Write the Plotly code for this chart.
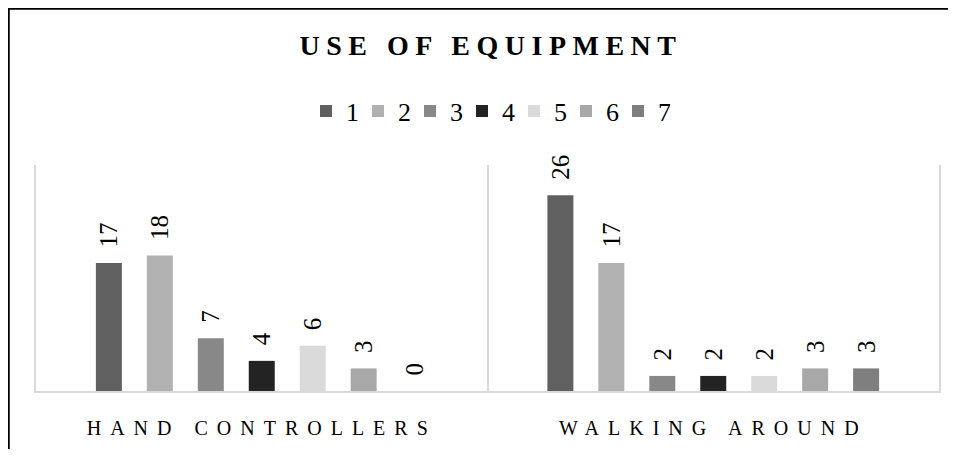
import plotly.graph_objects as go

categories = ["HAND CONTROLLERS", "WALKING AROUND"]
series_names = ["1", "2", "3", "4", "5", "6", "7"]
s1 = [17, 26]
s2 = [18, 17]
s3 = [7, 2]
s4 = [4, 2]
s5 = [6, 2]
s6 = [3, 3]
s7 = [0, 3]
series_values = [s1, s2, s3, s4, s5, s6, s7]
colors = ["#606060", "#b1b1b1", "#888888", "#232323", "#dadada", "#a8a8a8", "#7f7f7f"]

FONT = "Liberation Serif, Times New Roman, serif"
NB = "\u00a0"

fig = go.Figure()
for name, vals, col in zip(series_names, series_values, colors):
    fig.add_trace(go.Bar(
        x=categories, y=vals, name=name,
        marker=dict(color=col, line=dict(width=0)),
        texttemplate=NB * 2 + "%{y}",
        textposition="outside",
        textangle=-90,
        constraintext="none",
        cliponaxis=False,
        textfont=dict(family=FONT, size=25, color="#000000"),
    ))

# page has an 8px body margin: figure pixel = page pixel - 8
OFF = 8
W, H = 956 - 2 * OFF, 457 - 2 * OFF
L, T = 36 - OFF, 165 - OFF
R = W - (939 - OFF)
B = H - (391 - OFF)
pw, ph = W - L - R, H - T - B

def px_x(x):
    return (x - OFF - L) / pw

def px_y(y):
    return (H - B - (y - OFF)) / ph

ls_title = "letter-spacing:6.5px"
ls_cat = "letter-spacing:9px"
fig.update_layout(
    width=W, height=H,
    margin=dict(l=L, r=R, t=T, b=B, autoexpand=False),
    paper_bgcolor="white", plot_bgcolor="white",
    barmode="group", bargap=0.21, bargroupgap=0.49,
    font=dict(family=FONT, color="#000000"),
    title=dict(
        text=f"<span style='{ls_title}'><b>USE OF EQUIPMENT</b></span>",
        font=dict(family=FONT, size=28, color="#000000"),
        x=px_x(491), xref="paper", xanchor="center",
        y=1 - (45 - OFF) / H, yref="container", yanchor="middle",
    ),
    legend=dict(
        orientation="h", x=px_x(488), xanchor="center",
        y=px_y(111), yanchor="middle",
        font=dict(family=FONT, size=26, color="#000000"),
        bgcolor="rgba(0,0,0,0)", itemclick=False,
        entrywidth=7, entrywidthmode="pixels",
    ),
    xaxis=dict(
        tickmode="array", tickvals=categories,
        ticktext=[f"<span style='{ls_cat}'>{c}</span>" for c in categories],
        tickson="boundaries", ticks="",
        showgrid=True, gridcolor="#d9d9d9", gridwidth=2,
        showline=True, linecolor="#d9d9d9", linewidth=2,
        tickfont=dict(family=FONT, size=20, color="#000000"),
        ticklabelstandoff=18,
    ),
    yaxis=dict(
        range=[0, 30], showticklabels=False, showgrid=False, zeroline=False,
        showline=True, linecolor="#d9d9d9", linewidth=2, mirror=True, ticks="",
    ),
    showlegend=True,
    shapes=[dict(
        type="path", xref="paper", yref="paper",
        path=f"M {px_x(8.5)} {px_y(449)} L {px_x(8.5)} {px_y(8.5)} L {px_x(948)} {px_y(8.5)}",
        line=dict(color="#000000", width=2.5),
    )],
)

fig.write_html("out.html")
